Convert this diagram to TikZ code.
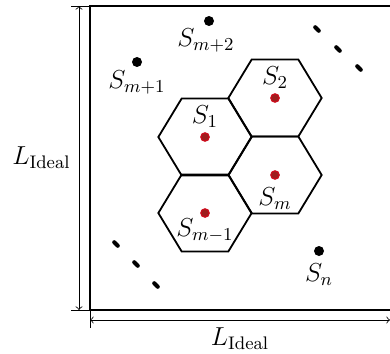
\RequirePackage{fix-cm}
\documentclass[tikz,border=0pt]{standalone}
\usepackage{amsmath}
\usetikzlibrary{positioning}
\definecolor{cellred}{RGB}{158,30,30}
\definecolor{cellrim}{RGB}{205,12,28}

\begin{document}
\begin{tikzpicture}[x=0.5pt,y=-0.5pt,
	sensor/.style={circle,fill=black,inner sep=0pt,minimum size=5pt},
	active/.style={circle,fill=cellred,draw=cellrim,line width=0.6pt,inner sep=0pt,minimum size=4.2pt},
	lab/.style={inner sep=1pt,font=\fontsize{13}{16}\selectfont}]
	\useasboundingbox (0,0) rectangle (390,353);
	
	% 监测区域
	\draw[line width=0.9pt] (90,6) coordinate (tl) rectangle (393,310);
	\coordinate (bl) at (90,310);
	
	% 尺寸标注
	\draw (71,6) -- (tl);
	\draw (71,310) -- (bl);
	\draw (bl) -- (90,328);
	\coordinate (vtop) at (79,6);
	\coordinate (vbot) at (79,310);
	\coordinate (hleft) at (90,320);
	\coordinate (hright) at (390,320);
	\draw[<->] (vtop) -- node[lab,left=3pt] {$L_{\text{Ideal}}$} (vbot);
	\draw[<->] (hleft) -- node[lab,below=2.5pt] {$L_{\text{Ideal}}$} (hright);
	
	% 六边形单元及其中心节点
	\foreach \n/\cx/\cy in {s1/205/137, s2/275/98, sm/275/175, smm/205/213} {
		\draw[line width=0.9pt] (\cx-46.67,\cy) -- (\cx-23.33,\cy-38.5) -- (\cx+23.33,\cy-38.5)
			-- (\cx+46.67,\cy) -- (\cx+23.33,\cy+38.5) -- (\cx-23.33,\cy+38.5) -- cycle;
		\node[active] (\n) at (\cx,\cy) {};
	}
	\node[lab,above=1pt of s2] {$S_2$};
	\node[lab,above=1.2pt of s1] {$S_1$};
	\node[lab,below=2.7pt of sm] {$S_m$};
	\node[lab,below=-0.7pt of smm] {$S_{m-1}$};
	
	% 其余节点
	\node[sensor] (mp2) at (209,21) {};
	\node[sensor] (mp1) at (137,62) {};
	\node[sensor] (sn) at (319,251) {};
	\node[lab,below=0pt of mp2,xshift=-1.5pt] {$S_{m+2}$};
	\node[lab,below=0.5pt of mp1] {$S_{m+1}$};
	\node[lab,below=2.5pt of sn] {$S_n$};
	
	% 省略号
	\foreach \x/\y in {317/29, 338/49, 359/68, 116/244, 136/264, 156/285}
		\draw[line width=2pt,line cap=round] (\x-1.8,\y-1.8) -- (\x+1.8,\y+1.8);
\end{tikzpicture}
\end{document}
